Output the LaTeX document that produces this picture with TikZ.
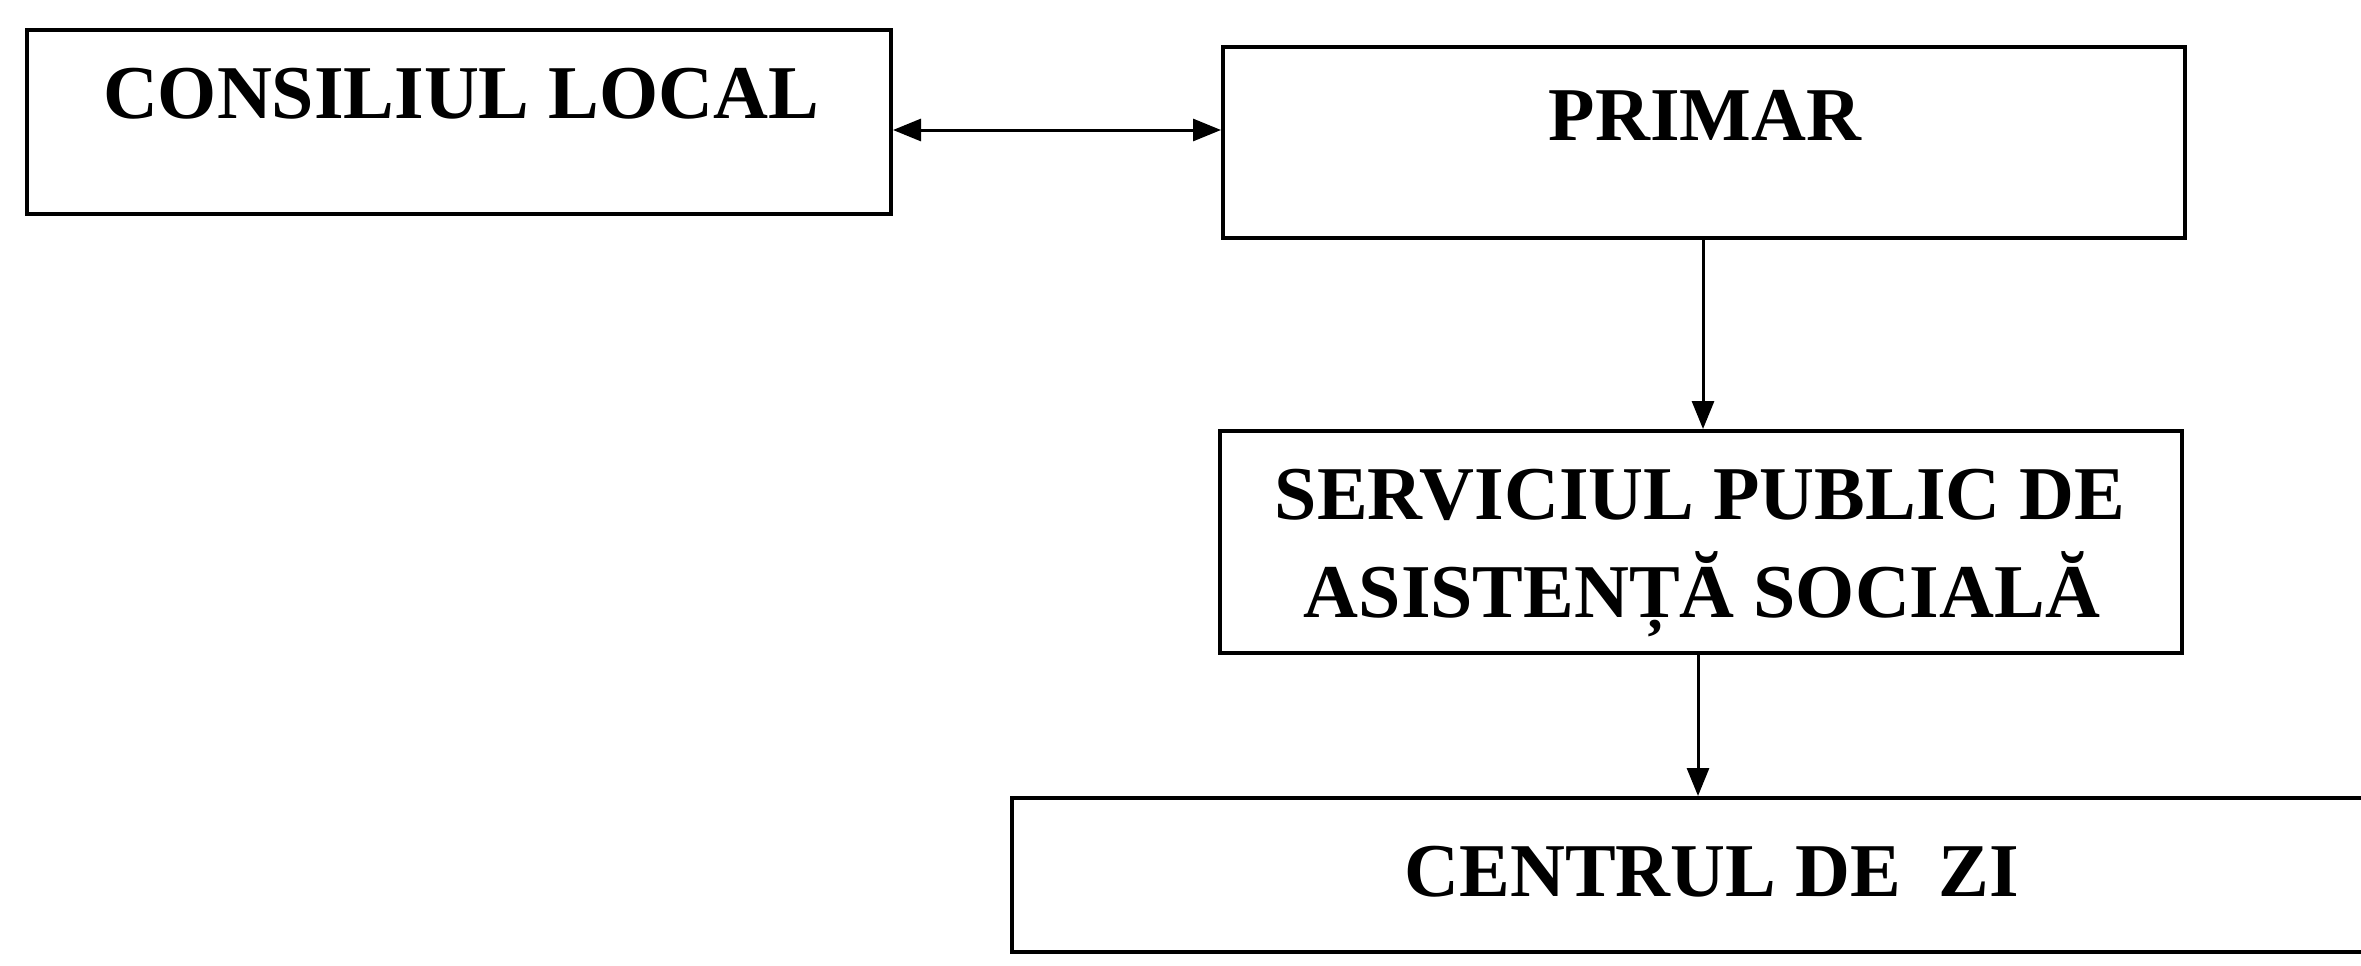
\documentclass[tikz,border=0pt]{standalone}
\usepackage{fontspec}
\setmainfont{Liberation Serif}
\usetikzlibrary{arrows.meta}
\begin{document}
\begin{tikzpicture}[x=1pt,y=-1pt,
  box/.style={draw=black, line width=4pt, rectangle, inner sep=0pt},
  lbl/.style={anchor=base, inner sep=0pt, font=\fontsize{76}{90}\selectfont\bfseries},
  conn/.style={draw=black, line width=3pt, -{Triangle[length=28pt,width=22pt]}},
  dconn/.style={draw=black, line width=3pt, {Triangle[length=28pt,width=22pt]}-{Triangle[length=28pt,width=22pt]}}]
\fill[white] (0,0) rectangle (2361,966);
\clip (0,0) rectangle (2361,966);
% boxes
\node[box, minimum width=864pt, minimum height=184pt] (cl) at (459,122) {};
\node[box, minimum width=962pt, minimum height=191pt] (pm) at (1704,142.5) {};
\node[box, minimum width=962pt, minimum height=222pt] (sv) at (1701,542) {};
\node[box, minimum width=1370pt, minimum height=154pt] (cz) at (1697,875) {};
% labels
\node[lbl] (clt) at (461,118) {CONSILIUL LOCAL};
\node[lbl] (pmt) at (1705,140) {PRIMAR};
\node[lbl] (svt1) at (1700,519) {SERVICIUL PUBLIC DE};
\node[lbl] (svt2) at (1702,617) {ASISTENȚĂ SOCIALĂ};
\node[lbl] (czt) at (1712,896) {CENTRUL DE\ \ ZI};
% connectors
\draw[dconn] (cl.east |- 0,130) -- (pm.west |- 0,130);
\draw[conn] (pm.south -| 1703,0) -- (sv.north -| 1703,0);
\draw[conn] (sv.south -| 1698,0) -- (cz.north -| 1698,0);
\end{tikzpicture}
\end{document}
